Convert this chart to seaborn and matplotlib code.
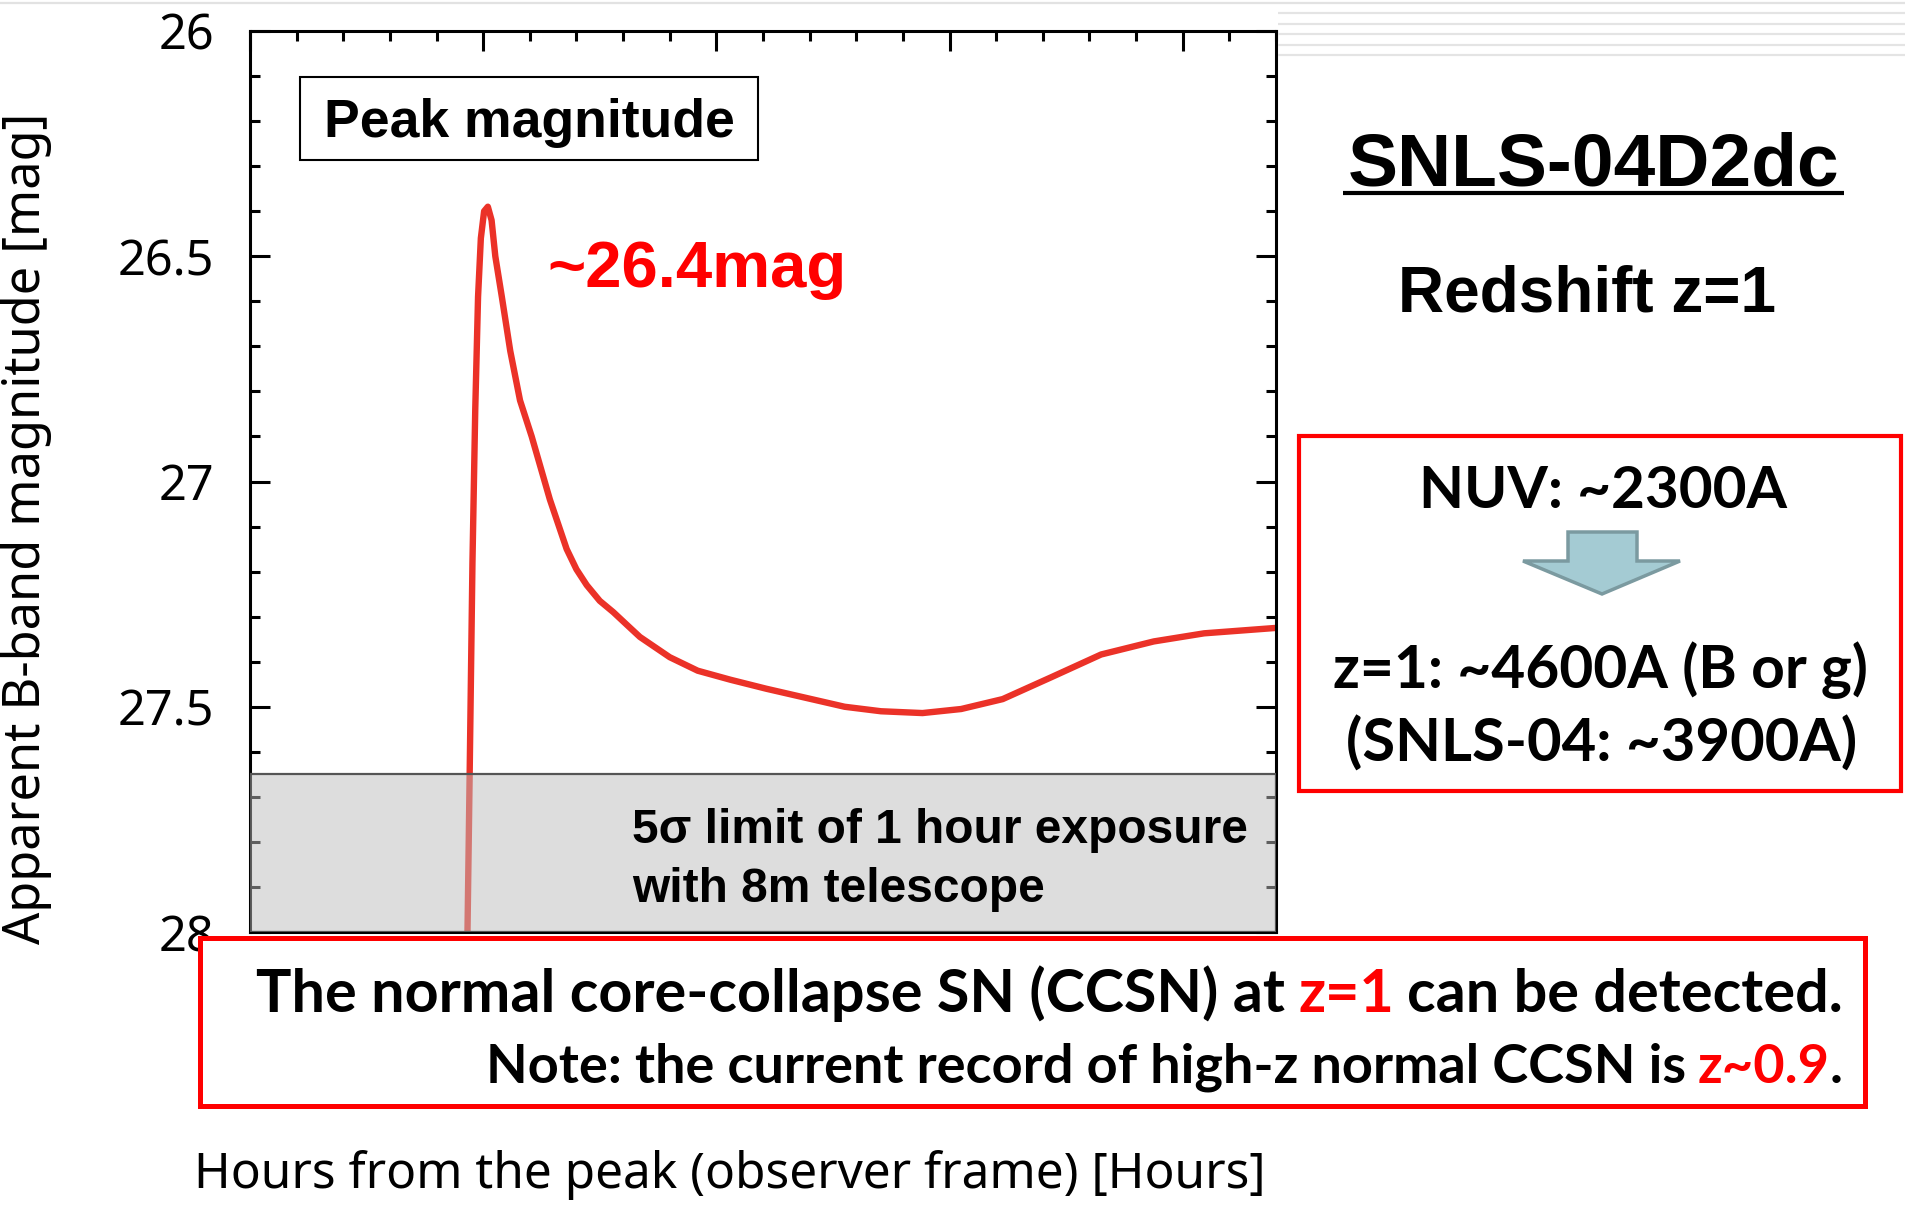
import numpy as np
import pandas as pd
import matplotlib.pyplot as plt
import matplotlib.ticker as mtick
from matplotlib.patches import Rectangle, Polygon
import seaborn as sns

# light curve (hours from peak, apparent B mag)
hours = [-0.35, -0.29, -0.23, -0.17, -0.11, -0.05, 0.02, 0.10, 0.18, 0.26,
         0.40, 0.58, 0.79, 1.04, 1.43, 1.79, 2.00, 2.22, 2.50, 2.79,
         3.10, 3.36, 4.00, 4.60, 5.30, 6.07, 7.75, 8.53, 9.42, 10.25,
         11.14, 12.17, 13.25, 14.38, 15.46, 17.0]
mag = [28.10, 27.65, 27.18, 26.84, 26.59, 26.46, 26.40, 26.39, 26.42, 26.50,
       26.59, 26.71, 26.82, 26.90, 27.04, 27.15, 27.195, 27.23, 27.265, 27.29,
       27.32, 27.345, 27.39, 27.42, 27.44, 27.46, 27.50, 27.51, 27.514, 27.505,
       27.483, 27.435, 27.384, 27.355, 27.337, 27.325]
limit_mag = 27.65   # 5 sigma, 1 h, 8 m telescope
y_ticks = [26, 26.5, 27, 27.5, 28]

df = pd.DataFrame({'hours': hours, 'mag': mag})

sns.set_style('ticks')
plt.rcParams['font.family'] = ['Noto Sans', 'DejaVu Sans']
plt.rcParams['text.color'] = 'black'
plt.rcParams['axes.labelcolor'] = 'black'
plt.rcParams['xtick.color'] = 'black'
plt.rcParams['ytick.color'] = 'black'

RED = '#ff0000'
CURVE = '#eb3228'
BOLD = ['Liberation Sans', 'DejaVu Sans']
SLIDE = ['Lato', 'DejaVu Sans']

fig = plt.figure(figsize=(19.05, 12.05), dpi=100)
W, H = 1905, 1205
ax = fig.add_axes([250 / W, 1 - 932 / H, 1026 / W, 901 / H])

sns.lineplot(data=df, x='hours', y='mag', ax=ax, color=CURVE, lw=4.6,
             sort=False, estimator=None, legend=False)

# detection limit band
ax.axhspan(limit_mag, 28, facecolor=(0.74, 0.74, 0.74, 0.5),
           edgecolor='#555555', lw=1.6, zorder=3)

ax.set_xlim(-5, 17)
ax.set_ylim(28, 26)
ax.set_yticks(y_ticks)
ax.xaxis.set_major_locator(mtick.MultipleLocator(5))
ax.xaxis.set_minor_locator(mtick.MultipleLocator(1))
ax.yaxis.set_minor_locator(mtick.MultipleLocator(0.1))
ax.yaxis.set_major_formatter(mtick.FuncFormatter(lambda v, _: f'{v:g}'))
ax.tick_params(which='both', direction='in', top=True, right=True,
               bottom=False, labelbottom=False, width=2.2, color='black')
ax.tick_params(which='major', length=14.5)
ax.tick_params(which='minor', length=7.2)
ax.tick_params(axis='y', labelsize=35, pad=26, labelcolor='black')
for s in ax.spines.values():
    s.set_linewidth(2.2)
    s.set_color('black')

ax.set_ylabel('Apparent B-band magnitude [mag]', fontsize=36.4, color='black')
ax.yaxis.label.set_va('center')
ax.yaxis.set_label_coords(-0.2183, 0.4484)
ax.set_xlabel('Hours from the peak (observer frame) [Hours]', fontsize=35.7, color='black')
ax.xaxis.label.set_ha('left')
ax.xaxis.label.set_va('center')
ax.xaxis.set_label_coords(-0.0546, -0.2697)

# overlay in pixel units for the slide annotations
ov = fig.add_axes([0, 0, 1, 1], zorder=10)
ov.set_xlim(0, W)
ov.set_ylim(H, 0)
ov.axis('off')

# slide decoration lines
ov.hlines([13, 24, 34, 45, 55], 1278, W, color='#e4e4e4', lw=1.6)
ov.hlines([2.5], 0, W, color='#e2e2e2', lw=1.6)

ov.add_patch(Rectangle((300, 77), 458, 83, facecolor='white', edgecolor='black', lw=1.5))
ov.text(529, 137, 'Peak magnitude', fontsize=38.5, fontweight='bold', family=BOLD,
        ha='center', va='baseline')
ov.text(547, 287, '~26.4mag', fontsize=47, fontweight='bold', family=BOLD,
        color=RED, ha='left', va='baseline')

ov.text(632, 843, '5σ limit of 1 hour exposure', fontsize=34.5, fontweight='bold',
        family=BOLD, ha='left', va='baseline')
ov.text(632, 902, 'with 8m telescope', fontsize=34.5, fontweight='bold',
        family=BOLD, ha='left', va='baseline')

ov.text(1594, 185, 'SNLS-04D2dc', fontsize=54, fontweight='bold', family=BOLD,
        ha='center', va='baseline')
ov.plot([1343, 1844], [193, 193], color='black', lw=3, solid_capstyle='butt')
ov.text(1587, 311, 'Redshift z=1', fontsize=46, fontweight='bold', family=BOLD,
        ha='center', va='baseline')

# wavelength box
ov.add_patch(Rectangle((1299, 436), 602, 355, facecolor='white', edgecolor=RED, lw=3))
ov.text(1603, 508, 'NUV: ~2300A', fontsize=42, fontweight='bold', family=SLIDE,
        ha='center', va='baseline')
ov.add_patch(Polygon([(1568, 532), (1637, 532), (1637, 561), (1680, 561),
                      (1602, 594), (1523, 561), (1568, 561)],
                     closed=True, facecolor='#a4cbd3', edgecolor='#7b9aa0', lw=2.5))
ov.text(1600, 688, 'z=1: ~4600A (B or g)', fontsize=42.2, fontweight='bold',
        family=SLIDE, ha='center', va='baseline')
ov.text(1602, 762, '(SNLS-04: ~3900A)', fontsize=43, fontweight='bold',
        family=SLIDE, ha='center', va='baseline')

# conclusion box
ov.add_patch(Rectangle((200, 938), 1665, 168, facecolor='white', edgecolor=RED, lw=3.6))


def colored_line(parts, x, y, size):
    '''right aligned line built from (text, color, gap) pieces'''
    text, color, _ = parts[-1]
    prev = ov.text(x, y, text, fontsize=size, fontweight='bold', family=SLIDE,
                   color=color, ha='right', va='baseline')
    gap = parts[-1][2]
    for text, color, g in reversed(parts[:-1]):
        prev = ov.annotate(text, xy=(0, 0), xycoords=prev,
                           xytext=(-gap * size, 0), textcoords='offset points',
                           fontsize=size, fontweight='bold', family=SLIDE,
                           color=color, ha='right', va='bottom')
        gap = g


colored_line([('The normal core-collapse SN (CCSN) at', 'black', 0),
              ('z=1', RED, 0.22),
              ('can be detected.', 'black', 0.22)], 1843, 1012, 42.7)
colored_line([('Note: the current record of high-z normal CCSN is', 'black', 0),
              ('z~0.9', RED, 0.22),
              ('.', 'black', 0.0)], 1843, 1083, 39)

fig.savefig('out.png', dpi=100)
